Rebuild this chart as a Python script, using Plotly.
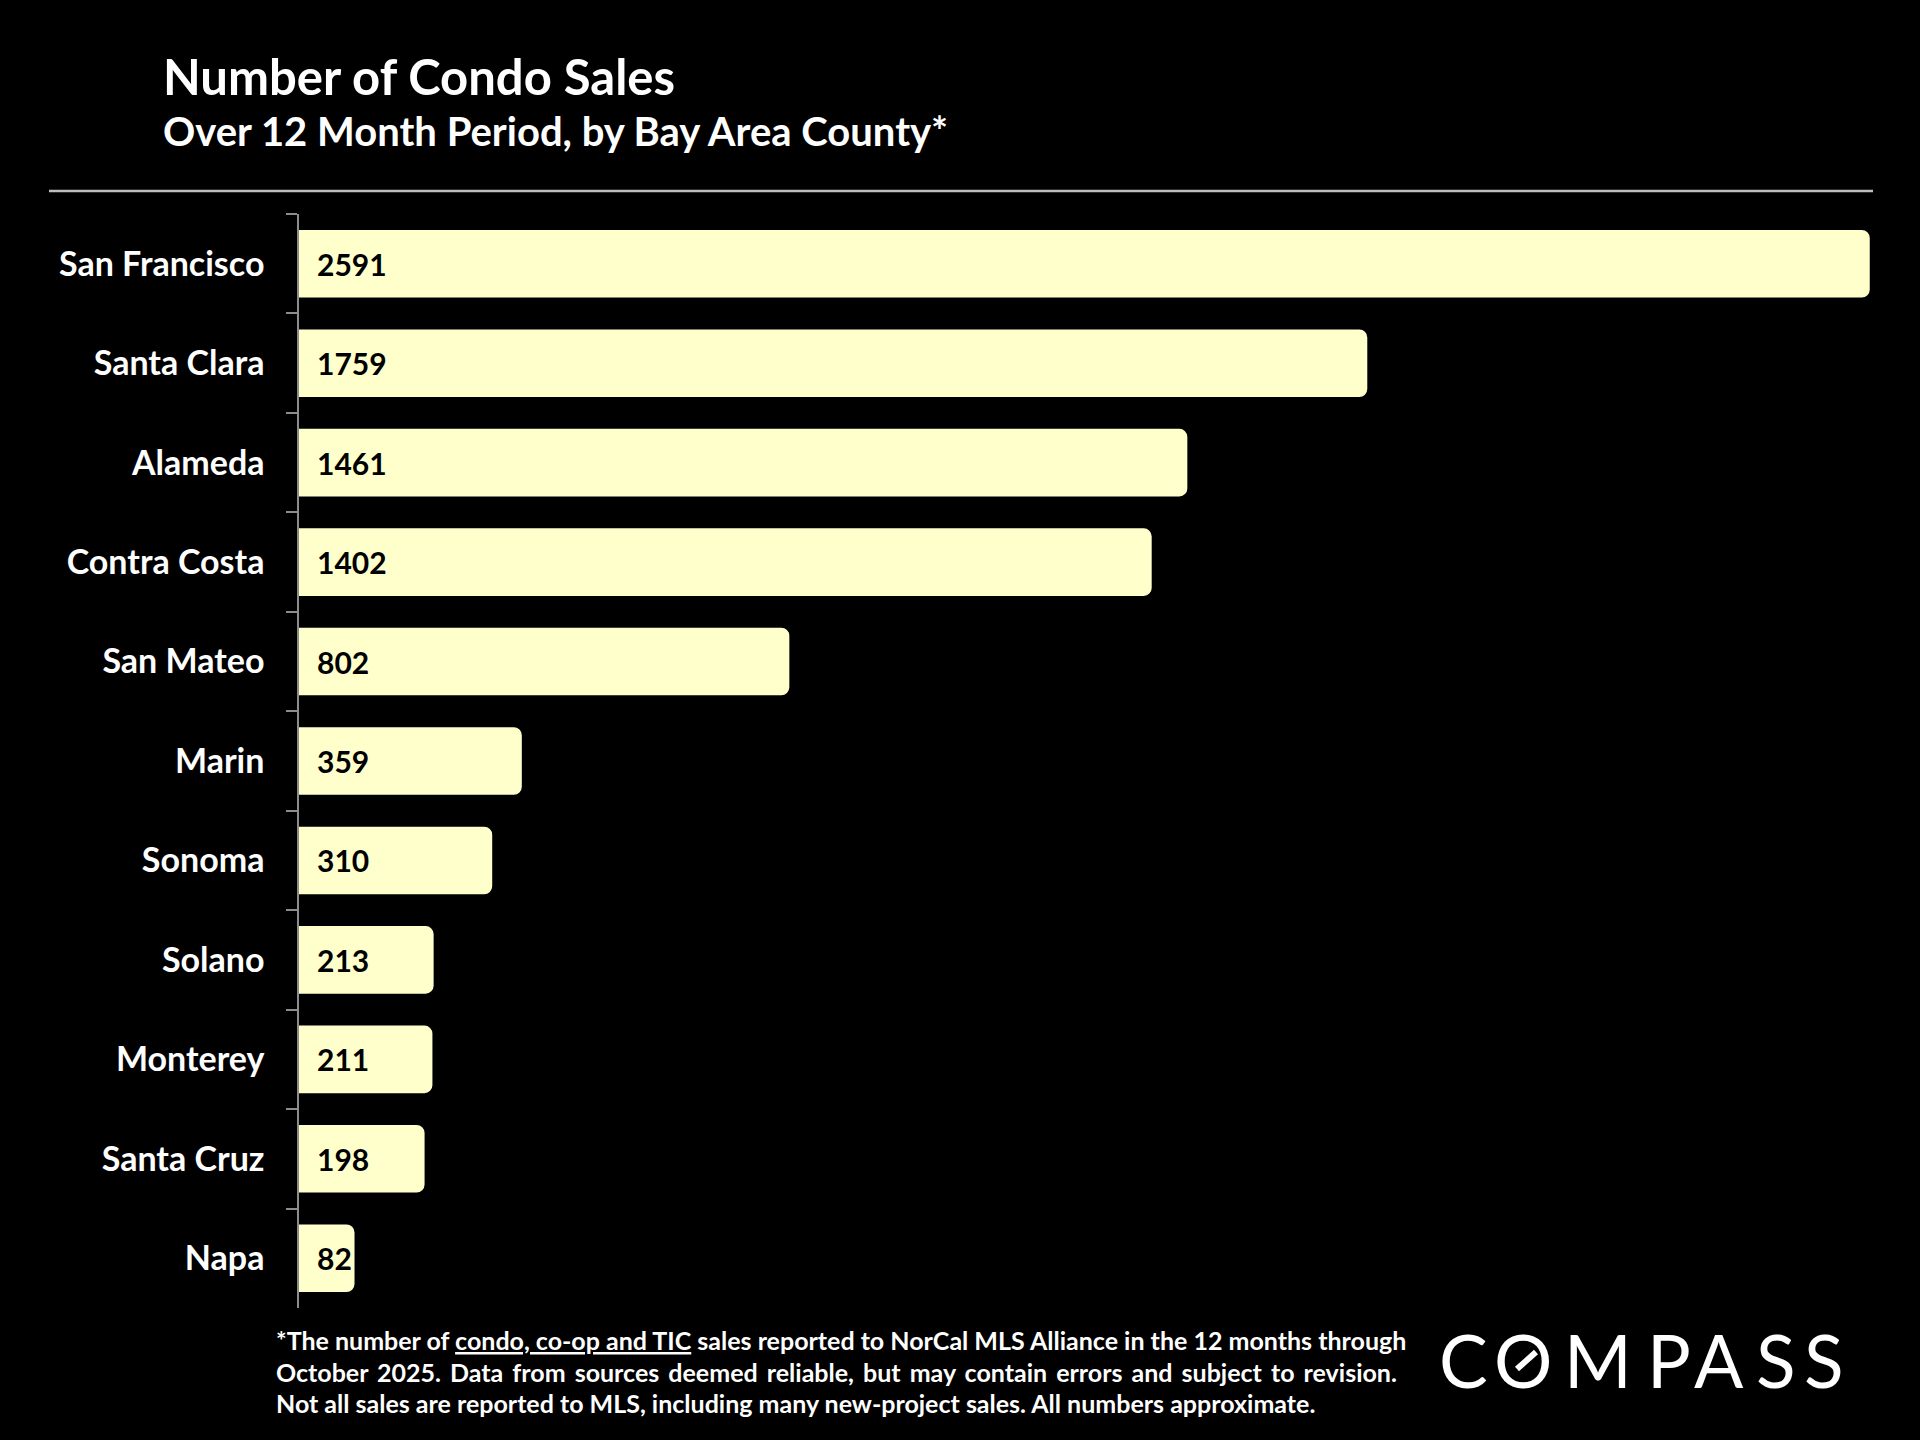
import plotly.graph_objects as go

# ---- data ----
counties = ["San Francisco", "Santa Clara", "Alameda", "Contra Costa", "San Mateo",
            "Marin", "Sonoma", "Solano", "Monterey", "Santa Cruz", "Napa"]
sales = [2591, 1759, 1461, 1402, 802, 359, 310, 213, 211, 198, 82]

title_text = "Number of Condo Sales"
subtitle_text = "Over 12 Month Period, by Bay Area County*"
footnote_lines = [
    "*The number of <u>condo, co-op and TIC</u> sales reported to NorCal MLS Alliance in the 12 months through",
    "<span style=\"word-spacing:3px\">October 2025. Data from sources deemed reliable, but may contain errors and subject to revision.</span>",
    "Not all sales are reported to MLS, including many new-project sales. All numbers approximate.",
]
logo_letters = ["C", "O", "M", "P", "A", "S", "S"]
x_max = 2603

# ---- layout geometry (pixels) ----
W, H = 1920, 1440
L, R, T, B = 299, 1871, 214, 1308


def px(x):
    return (x - L) / (R - L)


def py(y):
    return (B - y) / (B - T)


FONT = "Lato"
BAR_COLOR = "#FFFFCC"
AXIS_GRAY = "#8c8c8c"

fig = go.Figure()
fig.add_trace(go.Bar(
    x=sales,
    y=counties,
    orientation="h",
    marker=dict(color=BAR_COLOR, line=dict(width=12, color=BAR_COLOR), cornerradius=2),
    hoverinfo="skip",
))

annotations = []
# value labels at the base of each bar (data coordinates)
for c, v in zip(counties, sales):
    annotations.append(dict(
        text="<b>%d</b>" % v, x=0, y=c, xref="x", yref="y",
        xanchor="left", yanchor="middle", xshift=16, showarrow=False,
        font=dict(family=FONT, size=30, color="black")))

annotations += [
    dict(text="<b>" + title_text + "</b>", x=px(161), y=py(76), xref="paper", yref="paper",
         xanchor="left", yanchor="middle", showarrow=False,
         font=dict(family=FONT, size=49, color="white")),
    dict(text="<b>" + subtitle_text + "</b>", x=px(161), y=py(131), xref="paper", yref="paper",
         xanchor="left", yanchor="middle", showarrow=False,
         font=dict(family=FONT, size=40, color="white")),
]
# COMPASS logo letters
logo_centers = [1463, 1523, 1598, 1669, 1719, 1776, 1824]
for ch, cx in zip(logo_letters, logo_centers):
    annotations.append(dict(
        text=ch, x=px(cx), y=py(1360), xref="paper", yref="paper",
        xanchor="center", yanchor="middle", showarrow=False,
        font=dict(family=FONT, size=73, color="white")))

for i, line in enumerate(footnote_lines):
    annotations.append(dict(
        text="<b>" + line + "</b>", x=px(274), y=py(1340 + 31.5 * i), xref="paper", yref="paper",
        xanchor="left", yanchor="middle", showarrow=False,
        font=dict(family=FONT, size=25, color="white")))

fig.update_layout(
    width=W, height=H,
    paper_bgcolor="black", plot_bgcolor="black",
    margin=dict(l=L, r=W - R, t=T, b=H - B, pad=0),
    bargap=0.441,
    showlegend=False,
    xaxis=dict(visible=False, range=[0, x_max], fixedrange=True),
    yaxis=dict(
        autorange="reversed",
        showline=True, linecolor=AXIS_GRAY, linewidth=1.5,
        ticks="outside", tickson="boundaries", ticklen=11, tickcolor=AXIS_GRAY, tickwidth=1.5,
        ticklabelstandoff=26,
        tickfont=dict(family=FONT, size=34, color="white", weight="bold"),
        showgrid=False, zeroline=False, fixedrange=True,
    ),
    shapes=[
        dict(type="line", xref="paper", yref="paper",
             x0=px(49), x1=px(1873), y0=py(191), y1=py(191),
             line=dict(color="#bfbfbf", width=2.5)),
        # slash inside the logo's O
        dict(type="line", xref="paper", yref="paper",
             x0=px(1517), x1=px(1536), y0=py(1369), y1=py(1352),
             line=dict(color="white", width=6)),
    ],
    annotations=annotations,
)

fig.write_html(
    "out.html",
    config={"displayModeBar": False},
    post_script="document.body.style.margin='0';document.body.style.background='black';",
)
